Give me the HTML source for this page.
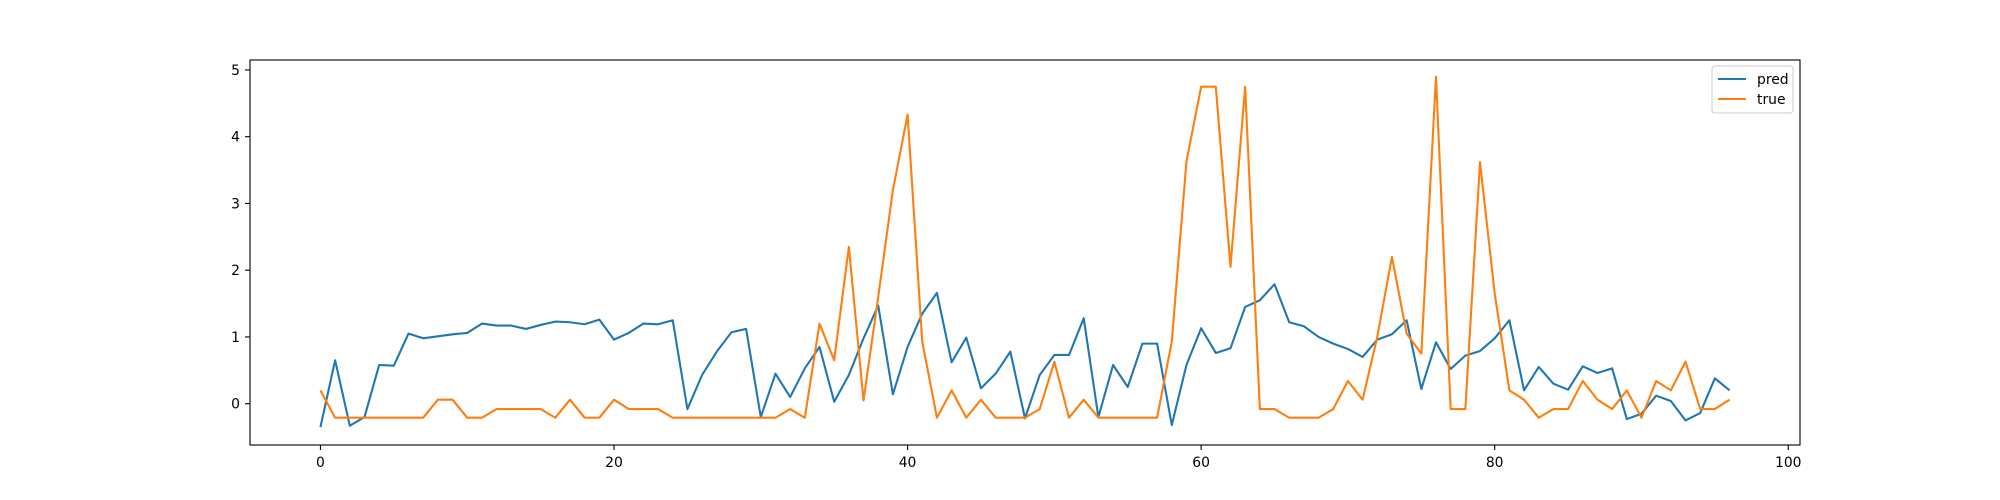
<!DOCTYPE html>
<html><head><meta charset="utf-8"><style>
html,body{margin:0;padding:0;background:#fff;}
svg{display:block;font-family:"DejaVu Sans","Liberation Sans",sans-serif;}
</style></head><body>
<svg id="chart" width="2000" height="500">
<rect x="0" y="0" width="2000" height="500" fill="#fff"/>
<g id="xticks"></g>
<g id="yticks"></g>
<g id="lines"></g>
<rect x="250" y="60" width="1550" height="385" fill="none" stroke="#000" stroke-width="1.1"/>
<g>
<rect x="1712" y="66" width="81" height="47" rx="3" fill="#fff" fill-opacity="0.8" stroke="#ccc" stroke-width="1"/>
<g>
<line x1="1718" y1="79" x2="1746" y2="79" stroke="#1f77b4" stroke-width="2.1"/>
<text x="1757" y="84" font-size="13.9" fill="#000">pred</text></g>
<g>
<line x1="1718" y1="99" x2="1746" y2="99" stroke="#ff7f0e" stroke-width="2.1"/>
<text x="1757" y="104" font-size="13.9" fill="#000">true</text></g>
</g>
</svg>
<script>
const xTicks=[0,20,40,60,80,100];
const yTicks=[0,1,2,3,4,5];
const pred=[-0.35,0.65,-0.33,-0.2,0.58,0.57,1.05,0.98,1.01,1.04,1.06,1.2,1.17,1.17,1.12,1.18,1.23,1.22,1.19,1.26,0.96,1.06,1.2,1.19,1.25,-0.08,0.43,0.78,1.07,1.12,-0.2,0.45,0.1,0.53,0.85,0.03,0.43,0.98,1.47,0.14,0.85,1.35,1.66,0.62,0.99,0.23,0.45,0.78,-0.22,0.43,0.73,0.73,1.28,-0.2,0.58,0.25,0.9,0.9,-0.32,0.58,1.13,0.76,0.83,1.45,1.55,1.79,1.22,1.16,1.0,0.9,0.82,0.7,0.96,1.04,1.25,0.22,0.92,0.52,0.72,0.79,0.98,1.25,0.2,0.55,0.3,0.21,0.56,0.46,0.53,-0.23,-0.15,0.12,0.04,-0.25,-0.14,0.38,0.2];
const truth=[0.2,-0.21,-0.21,-0.21,-0.21,-0.21,-0.21,-0.21,0.06,0.06,-0.21,-0.21,-0.08,-0.08,-0.08,-0.08,-0.21,0.06,-0.21,-0.21,0.06,-0.08,-0.08,-0.08,-0.21,-0.21,-0.21,-0.21,-0.21,-0.21,-0.21,-0.21,-0.08,-0.21,1.2,0.65,2.35,0.05,1.6,3.2,4.33,0.93,-0.21,0.2,-0.21,0.06,-0.21,-0.21,-0.21,-0.08,0.63,-0.21,0.06,-0.21,-0.21,-0.21,-0.21,-0.21,0.93,3.63,4.75,4.75,2.05,4.75,-0.08,-0.08,-0.21,-0.21,-0.21,-0.08,0.34,0.06,1.0,2.2,1.05,0.75,4.9,-0.08,-0.08,3.62,1.65,0.2,0.06,-0.21,-0.08,-0.08,0.34,0.06,-0.08,0.2,-0.21,0.34,0.2,0.63,-0.08,-0.08,0.06];
const NS='http://www.w3.org/2000/svg';
function X(v){return 250+(v+4.8)*(1550/105.6);}
function Y(v){return 403.7-v*66.75;}
function mk(tag,attrs,parent){const e=document.createElementNS(NS,tag);for(const k in attrs)e.setAttribute(k,attrs[k]);parent.appendChild(e);return e;}
const xg=document.getElementById('xticks'),yg=document.getElementById('yticks'),lg=document.getElementById('lines');
xTicks.forEach(t=>{
  const l=mk('line',{x1:X(t),x2:X(t),y1:445,y2:450,stroke:'#000','stroke-width':1.1},xg);
  
  
  const tx=mk('text',{x:X(t),y:467,'font-size':13.9,'text-anchor':'middle'},xg);
  tx.textContent=t;
  
  
});
yTicks.forEach(t=>{
  const l=mk('line',{x1:245,x2:250,y1:Y(t),y2:Y(t),stroke:'#000','stroke-width':1.1},yg);
  
  
  const tx=mk('text',{x:240,y:Y(t)+5,'font-size':13.9,'text-anchor':'end'},yg);
  tx.textContent=t;
  
  
});
function pts(a){return a.map((v,i)=>X(i).toFixed(2)+','+Y(v).toFixed(2)).join(' ');}
const p1=mk('polyline',{points:pts(pred),fill:'none',stroke:'#1f77b4','stroke-width':2.1,'stroke-linejoin':'round'},lg);


const p2=mk('polyline',{points:pts(truth),fill:'none',stroke:'#ff7f0e','stroke-width':2.1,'stroke-linejoin':'round'},lg);


</script>
</body></html>
